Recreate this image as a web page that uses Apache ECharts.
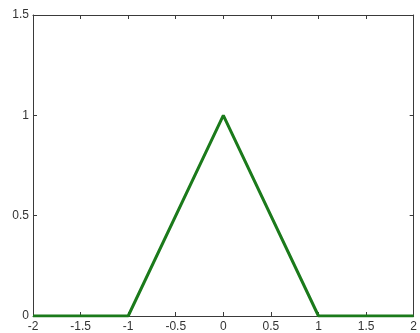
<!DOCTYPE html>
<html>
<head>
<meta charset="utf-8">
<script src="https://cdn.jsdelivr.net/npm/echarts@6/dist/echarts.min.js"></script>
<style>
  html, body { margin: 0; padding: 0; background: #fff; }
  #chart { width: 420px; height: 333px; }
</style>
</head>
<body>
<div id="chart"></div>
<script>
// Triangle (hat) function sampled at its breakpoints
const xValues = [-2, -1, 0, 1, 2];
const yValues = [0, 0, 1, 0, 0];

const axisColor = '#3a3a3a';
const labelColor = '#333';
const font = 'Liberation Sans, Arial, sans-serif';

const chart = echarts.init(document.getElementById('chart'), null, { renderer: 'canvas' });

const tickStyle = { show: true, inside: true, length: 4, lineStyle: { color: axisColor, width: 1 } };
const lineStyle = { lineStyle: { color: axisColor, width: 1 } };

chart.setOption({
  animation: false,
  backgroundColor: '#fff',
  grid: { left: 33, right: 2, top: 15, bottom: 17, containLabel: false },
  xAxis: [
    {
      type: 'value', min: -2, max: 2, interval: 0.5, position: 'bottom',
      axisLine: { show: true, onZero: false, ...lineStyle },
      axisTick: tickStyle,
      splitLine: { show: false },
      axisLabel: { color: labelColor, fontSize: 12, fontFamily: font, margin: 5 }
    },
    {
      type: 'value', min: -2, max: 2, interval: 0.5, position: 'top',
      axisLine: { show: true, onZero: false, ...lineStyle },
      axisTick: tickStyle,
      splitLine: { show: false },
      axisLabel: { show: false }
    }
  ],
  yAxis: [
    {
      type: 'value', min: 0, max: 1.5, interval: 0.5, position: 'left',
      axisLine: { show: true, onZero: false, ...lineStyle },
      axisTick: tickStyle,
      splitLine: { show: false },
      axisLabel: { color: labelColor, fontSize: 12, fontFamily: font, margin: 4 }
    },
    {
      type: 'value', min: 0, max: 1.5, interval: 0.5, position: 'right',
      axisLine: { show: true, onZero: false, ...lineStyle },
      axisTick: tickStyle,
      splitLine: { show: false },
      axisLabel: { show: false }
    }
  ],
  series: [
    {
      type: 'line',
      xAxisIndex: 0,
      yAxisIndex: 0,
      data: xValues.map((x, i) => [x, yValues[i]]),
      showSymbol: false,
      lineStyle: { color: '#1b7a1b', width: 3 },
      z: 3
    }
  ]
});
</script>
</body>
</html>
